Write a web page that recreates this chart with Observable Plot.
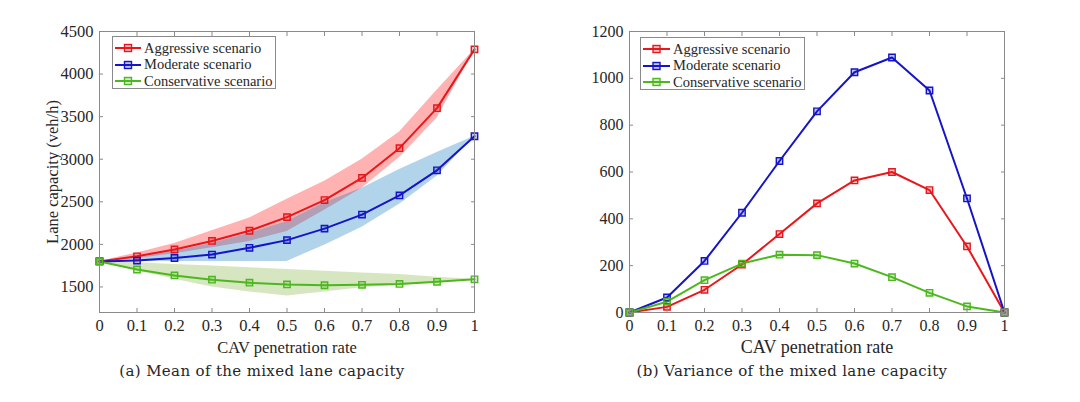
<!DOCTYPE html>
<html><head><meta charset="utf-8">
<script src="https://cdn.jsdelivr.net/npm/d3@7"></script>
<script src="https://cdn.jsdelivr.net/npm/@observablehq/plot@0.6"></script>
<style>
body{margin:0;background:#fff;width:1080px;height:402px;position:relative;overflow:hidden;font-family:"Liberation Serif","Times New Roman",Times,Tinos,serif}
.panel{position:absolute;top:0}
.panel svg text{font-family:"Liberation Serif","Times New Roman",Times,Tinos,serif}
.legend{position:absolute;border:1px solid #8a8a8a;background:#fff;font-size:14.5px;color:#262626;box-sizing:border-box}
.legend .row{position:absolute;left:0;height:16px;display:flex;align-items:center;white-space:nowrap}
.legend svg{display:block}
.caption{position:absolute;font-family:"DejaVu Serif",serif;font-size:15px;letter-spacing:0.35px;color:#262626;white-space:nowrap;transform:translateX(-50%)}
</style></head><body>
<div id="a" class="panel" style="left:0"></div>
<div id="b" class="panel" style="left:540px"></div>
<script>
// ---- data ----
const rates = [0, 0.1, 0.2, 0.3, 0.4, 0.5, 0.6, 0.7, 0.8, 0.9, 1];
const scenarios = ["Aggressive scenario", "Moderate scenario", "Conservative scenario"];
const colors = ["#e8171c", "#1414c8", "#4cb81e"];
const bandColors = ["#ff0000", "#0072bd", "#77ac30"];

const aggMean = [1800, 1860, 1940, 2040, 2160, 2320, 2520, 2780, 3130, 3600, 4290];
const aggLo   = [1800, 1835, 1890, 1960, 2035, 2150, 2400, 2660, 3020, 3480, 4285];
const aggHi   = [1800, 1900, 2010, 2160, 2310, 2530, 2740, 3000, 3320, 3810, 4290];

const modMean = [1800, 1810, 1840, 1880, 1960, 2050, 2185, 2350, 2575, 2870, 3270];
const modLo   = [1800, 1800, 1800, 1800, 1800, 1800, 1990, 2200, 2470, 2800, 3270];
const modHi   = [1800, 1840, 1920, 2010, 2130, 2270, 2490, 2660, 2880, 3080, 3270];

const conMean = [1800, 1705, 1635, 1585, 1550, 1530, 1520, 1525, 1535, 1560, 1590];
const conLo   = [1800, 1690, 1590, 1500, 1440, 1395, 1440, 1490, 1520, 1545, 1590];
const conHi   = [1800, 1785, 1765, 1745, 1725, 1705, 1685, 1665, 1645, 1615, 1590];

const aggVar = [0, 24, 97, 205, 335, 466, 564, 600, 523, 282, 0];
const modVar = [0, 64, 220, 426, 647, 859, 1026, 1089, 948, 487, 0];
const conVar = [0, 46, 138, 209, 247, 245, 209, 151, 84, 26, 0];

const xTicks = rates;
const yTicksA = [1500, 2000, 2500, 3000, 3500, 4000, 4500];
const yTicksB = [0, 200, 400, 600, 800, 1000, 1200];

// ---- tables ----
const means = [aggMean, modMean, conMean], los = [aggLo, modLo, conLo], his = [aggHi, modHi, conHi];
const vars = [aggVar, modVar, conVar];
const meanRows = [], varRows = [];
scenarios.forEach((s, i) => rates.forEach((r, j) => {
  meanRows.push({s, r, v: means[i][j], lo: los[i][j], hi: his[i][j]});
  varRows.push({s, r, v: vars[i][j]});
}));
const colorScale = {domain: scenarios, range: colors};
const FONT = "'Liberation Serif', 'Times New Roman', Times, Tinos, serif";

function panel(rows, withBands, yDomain, yTicks, yLabel, marginLeft, marginRight, tickFs, labelFs, xLabelOffset) {
  const marks = [];
  if (withBands) {
    [0, 1, 2].forEach(i => {
      marks.push(Plot.areaY(rows.filter(d => d.s === scenarios[i]),
        {x: "r", y1: "lo", y2: "hi", fill: bandColors[i], fillOpacity: 0.3, curve: "linear"}));
    });
  }
  marks.push(
    Plot.line(rows, {x: "r", y: "v", z: "s", stroke: "s", strokeWidth: 2}),
    Plot.dot(rows, {x: "r", y: "v", stroke: "s", fill: "s", fillOpacity: 0.25, symbol: "square", r: 3.6, strokeWidth: 1.4}),
    Plot.frame({stroke: "#8a8a8a"}),
    Plot.axisX(xTicks, {anchor: "bottom", tickSize: 0, tickPadding: 7, tickFormat: d => String(d), fontSize: tickFs, label: null}),
    Plot.axisX(xTicks, {anchor: "bottom", tickSize: -4, tickFormat: () => "", stroke: "#8a8a8a", label: "CAV penetration rate", labelAnchor: "center", labelOffset: xLabelOffset, labelArrow: "none", fontSize: labelFs}),
    Plot.axisX(xTicks, {anchor: "top", tickSize: -4, tickFormat: () => "", label: null, stroke: "#8a8a8a"}),
    Plot.axisY(yTicks, {anchor: "left", tickSize: 0, tickPadding: 6, tickFormat: d => String(d), fontSize: tickFs, label: null}),
    Plot.axisY(yTicks, {anchor: "left", tickSize: -4, tickFormat: () => "", stroke: "#8a8a8a", label: yLabel, labelAnchor: "center", labelOffset: 53, labelArrow: "none", fontSize: labelFs}),
    Plot.axisY(yTicks, {anchor: "right", tickSize: -4, tickFormat: () => "", label: null, stroke: "#8a8a8a"})
  );
  return Plot.plot({
    width: 540, height: 402,
    marginLeft, marginRight, marginTop: 31, marginBottom: 90,
    style: {fontFamily: FONT, fontSize: "16px", color: "#262626", background: "#fff", overflow: "visible"},
    x: {domain: [0, 1]},
    y: {domain: yDomain},
    color: colorScale,
    marks
  });
}

function legend(left, top, width, textLeft) {
  const box = document.createElement("div");
  box.className = "legend";
  Object.assign(box.style, {left: left + "px", top: top + "px", width: width + "px", height: "53px"});
  scenarios.forEach((s, i) => {
    const row = document.createElement("div");
    row.className = "row";
    row.style.top = (3 + i * 16.7) + "px";
    const sw = textLeft - 3;
    row.innerHTML = `<svg width="${sw}" height="16"><line x1="2" x2="${sw - 3}" y1="8" y2="8" stroke="${colors[i]}" stroke-width="2"/>` +
      `<rect x="${(sw - 1) / 2 - 3.5}" y="4.5" width="7" height="7" fill="${colors[i]}" fill-opacity="0.25" stroke="${colors[i]}" stroke-width="1.4"/></svg>` +
      `<span>${s}</span>`;
    box.appendChild(row);
  });
  document.body.appendChild(box);
}

function caption(text, cx, top) {
  const c = document.createElement("div");
  c.className = "caption";
  c.textContent = text;
  c.style.left = cx + "px";
  c.style.top = top + "px";
  document.body.appendChild(c);
}

document.getElementById("a").appendChild(panel(meanRows, true, [1200, 4500], yTicksA, "Lane capacity (veh/h)", 99, 66, 16.5, 16.5, 40));
document.getElementById("b").appendChild(panel(varRows, false, [0, 1200], yTicksB, null, 89, 76, 16, 18, 40));
legend(112, 36, 164, 34);
legend(640, 37, 165, 35);
caption("(a) Mean of the mixed lane capacity", 262, 362);
caption("(b) Variance of the mixed lane capacity", 792, 362);
</script>
</body></html>
